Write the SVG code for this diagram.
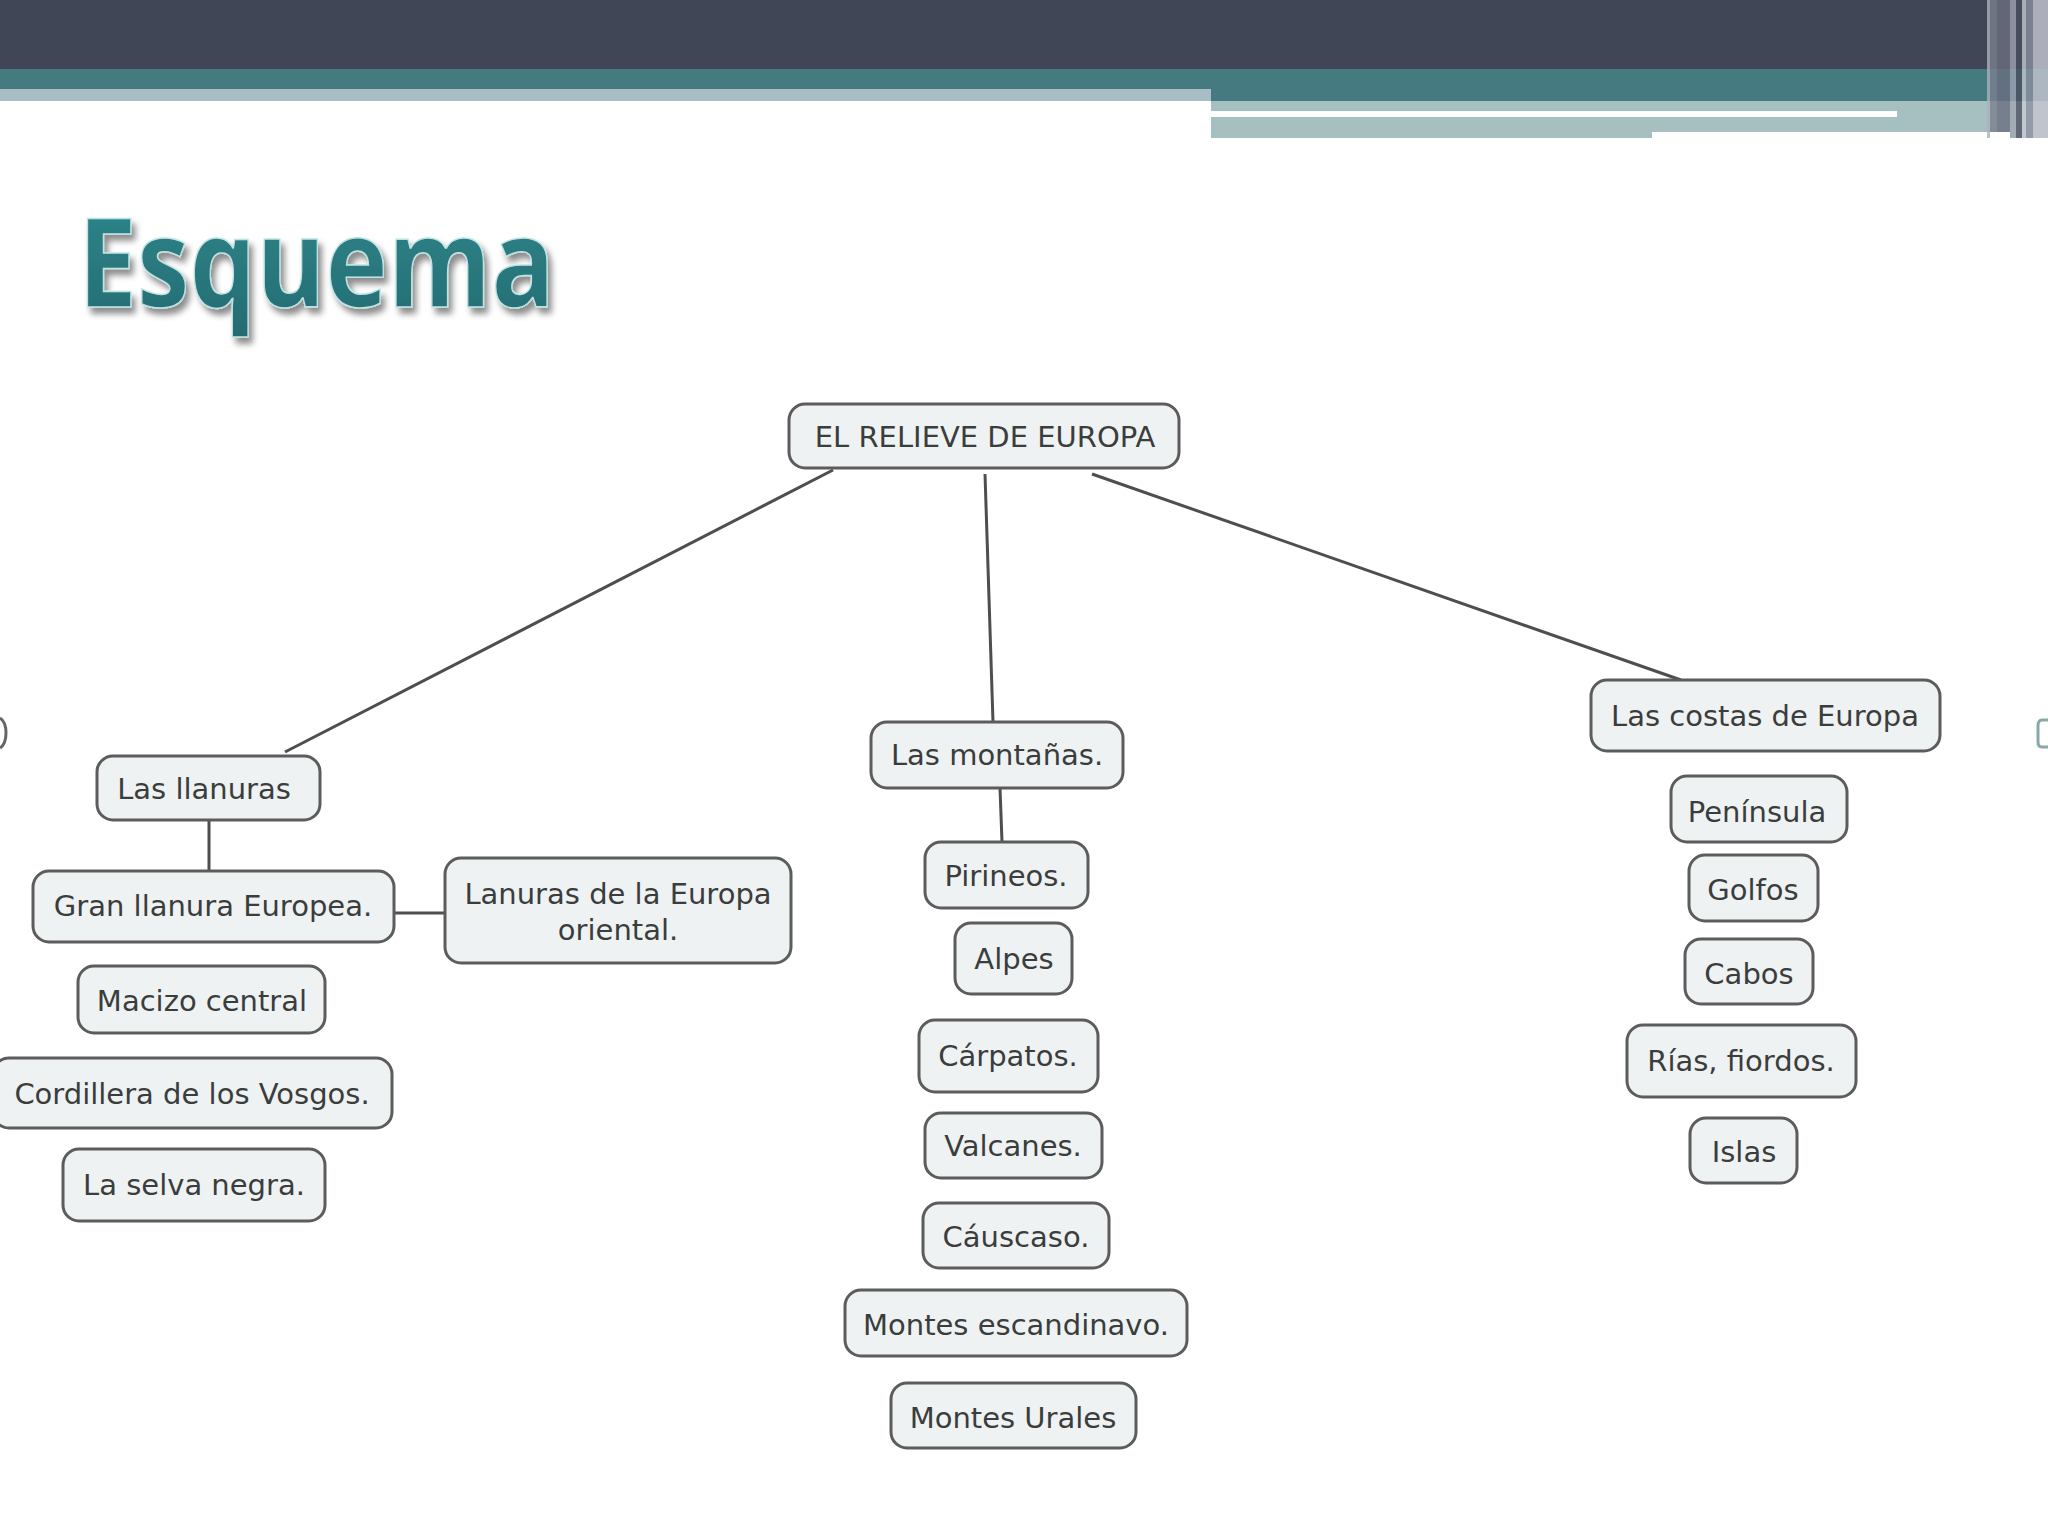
<svg xmlns="http://www.w3.org/2000/svg" width="2048" height="1536" viewBox="0 0 2048 1536">
<defs>
<style>
.n rect{fill:#eef2f2;stroke:#5c5c5c;stroke-width:3}
.n text{font-family:"DejaVu Sans",Verdana,sans-serif;font-size:29px;fill:#3b3d3d;text-anchor:middle}
.c line{stroke:#4e4e4e;stroke-width:3;fill:none}
</style>
<filter id="sh" x="-10%" y="-10%" width="130%" height="140%">
<feGaussianBlur in="SourceAlpha" stdDeviation="3"/>
<feOffset dx="4" dy="6" result="b"/>
<feFlood flood-color="#000" flood-opacity="0.45"/>
<feComposite in2="b" operator="in" result="s"/>
<feMerge><feMergeNode in="s"/><feMergeNode in="SourceGraphic"/></feMerge>
</filter>
<linearGradient id="tg" x1="0" y1="0" x2="0" y2="1">
<stop offset="0" stop-color="#2f8a8f"/>
<stop offset="1" stop-color="#246a70"/>
</linearGradient>
</defs>
<rect width="2048" height="1536" fill="#ffffff"/>
<g id="header">
<rect x="0" y="0" width="2048" height="69" fill="#414656"/>
<rect x="0" y="69" width="2048" height="32" fill="#457b80"/>
<rect x="0" y="89" width="1211" height="12" fill="#a6bec4"/>
<rect x="1211" y="101" width="800" height="31" fill="#a6c0c2"/>
<rect x="1211" y="111" width="686" height="6" fill="#ffffff"/>
<rect x="1211" y="117" width="441" height="21" fill="#a6c0c2"/>
<rect x="2010" y="101" width="38" height="37" fill="#b9cccd"/>
<rect x="1987" y="0" width="3" height="138" fill="#aab0bc" opacity="0.8"/>
<rect x="1990" y="0" width="7" height="132" fill="#7a7f8e" opacity="0.8"/>
<rect x="1997" y="0" width="13" height="132" fill="#6a6e80" opacity="0.8"/>
<rect x="2010" y="0" width="6" height="138" fill="#9ea3b0" opacity="0.8"/>
<rect x="2016" y="0" width="6" height="138" fill="#4a4f60" opacity="0.8"/>
<rect x="2022" y="0" width="4" height="138" fill="#c3c7d0" opacity="0.8"/>
<rect x="2026" y="0" width="7" height="138" fill="#8a8fa0" opacity="0.8"/>
<rect x="2033" y="0" width="15" height="138" fill="#c0c2cc" opacity="0.85"/>
</g>
<text id="title" x="78" y="307" font-family="'Open Sans','DejaVu Sans',sans-serif" font-weight="bold" font-size="124" textLength="477" lengthAdjust="spacingAndGlyphs" fill="url(#tg)" stroke="#bfe3e3" stroke-width="1.5" filter="url(#sh)">Esquema</text>
<g id="connectors" class="c">
<line x1="833" y1="470" x2="285" y2="752"/>
<line x1="985" y1="474" x2="993" y2="722"/>
<line x1="1092" y1="474" x2="1681" y2="680"/>
<line x1="209" y1="820" x2="209" y2="871"/>
<line x1="394" y1="913" x2="445" y2="913"/>
<line x1="1000" y1="788" x2="1002" y2="842"/>
</g>
<g id="n-root" class="n"><rect x="789" y="404" width="390" height="64" rx="16"/><text x="985" y="447">EL RELIEVE DE EUROPA</text></g>
<g id="n-llanuras" class="n"><rect x="97" y="756" width="223" height="64" rx="16"/><text x="204" y="799">Las llanuras</text></g>
<g id="n-gran" class="n"><rect x="33" y="871" width="361" height="71" rx="16"/><text x="213" y="916">Gran llanura Europea.</text></g>
<g id="n-lanuras" class="n"><rect x="445" y="858" width="346" height="105" rx="16"/><text x="618" y="904">Lanuras de la Europa</text><text x="618" y="940">oriental.</text></g>
<g id="n-macizo" class="n"><rect x="78" y="966" width="247" height="67" rx="16"/><text x="202" y="1011">Macizo central</text></g>
<g id="n-vosgos" class="n"><rect x="-7" y="1058" width="399" height="70" rx="16"/><text x="192" y="1104">Cordillera de los Vosgos.</text></g>
<g id="n-selva" class="n"><rect x="63" y="1149" width="262" height="72" rx="16"/><text x="194" y="1195">La selva negra.</text></g>
<g id="n-montanas" class="n"><rect x="871" y="722" width="252" height="66" rx="16"/><text x="997" y="765">Las montañas.</text></g>
<g id="n-pirineos" class="n"><rect x="925" y="842" width="163" height="66" rx="16"/><text x="1006" y="886">Pirineos.</text></g>
<g id="n-alpes" class="n"><rect x="955" y="923" width="117" height="71" rx="16"/><text x="1014" y="969">Alpes</text></g>
<g id="n-carpatos" class="n"><rect x="919" y="1020" width="179" height="72" rx="16"/><text x="1008" y="1066">Cárpatos.</text></g>
<g id="n-valcanes" class="n"><rect x="925" y="1113" width="177" height="65" rx="16"/><text x="1013" y="1156">Valcanes.</text></g>
<g id="n-causcaso" class="n"><rect x="923" y="1203" width="186" height="65" rx="16"/><text x="1016" y="1247">Cáuscaso.</text></g>
<g id="n-escandinavo" class="n"><rect x="845" y="1290" width="342" height="66" rx="16"/><text x="1016" y="1335">Montes escandinavo.</text></g>
<g id="n-urales" class="n"><rect x="891" y="1383" width="245" height="65" rx="16"/><text x="1013" y="1428">Montes Urales</text></g>
<g id="n-costas" class="n"><rect x="1591" y="680" width="349" height="71" rx="16"/><text x="1765" y="726">Las costas de Europa</text></g>
<g id="n-peninsula" class="n"><rect x="1671" y="776" width="176" height="66" rx="16"/><text x="1757" y="822">Península</text></g>
<g id="n-golfos" class="n"><rect x="1689" y="855" width="129" height="66" rx="16"/><text x="1753" y="900">Golfos</text></g>
<g id="n-cabos" class="n"><rect x="1685" y="939" width="128" height="65" rx="16"/><text x="1749" y="984">Cabos</text></g>
<g id="n-rias" class="n"><rect x="1627" y="1025" width="229" height="72" rx="16"/><text x="1741" y="1071">Rías, fiordos.</text></g>
<g id="n-islas" class="n"><rect x="1690" y="1118" width="107" height="65" rx="16"/><text x="1744" y="1162">Islas</text></g>
<path d="M0,718 Q6,722 6,733 Q6,744 0,748" fill="none" stroke="#666" stroke-width="3"/>
<path d="M2048,720 L2042,720 Q2038,720 2038,726 L2038,742 Q2038,747 2042,747 L2048,747" fill="none" stroke="#8aa8aa" stroke-width="3"/>
</svg>
